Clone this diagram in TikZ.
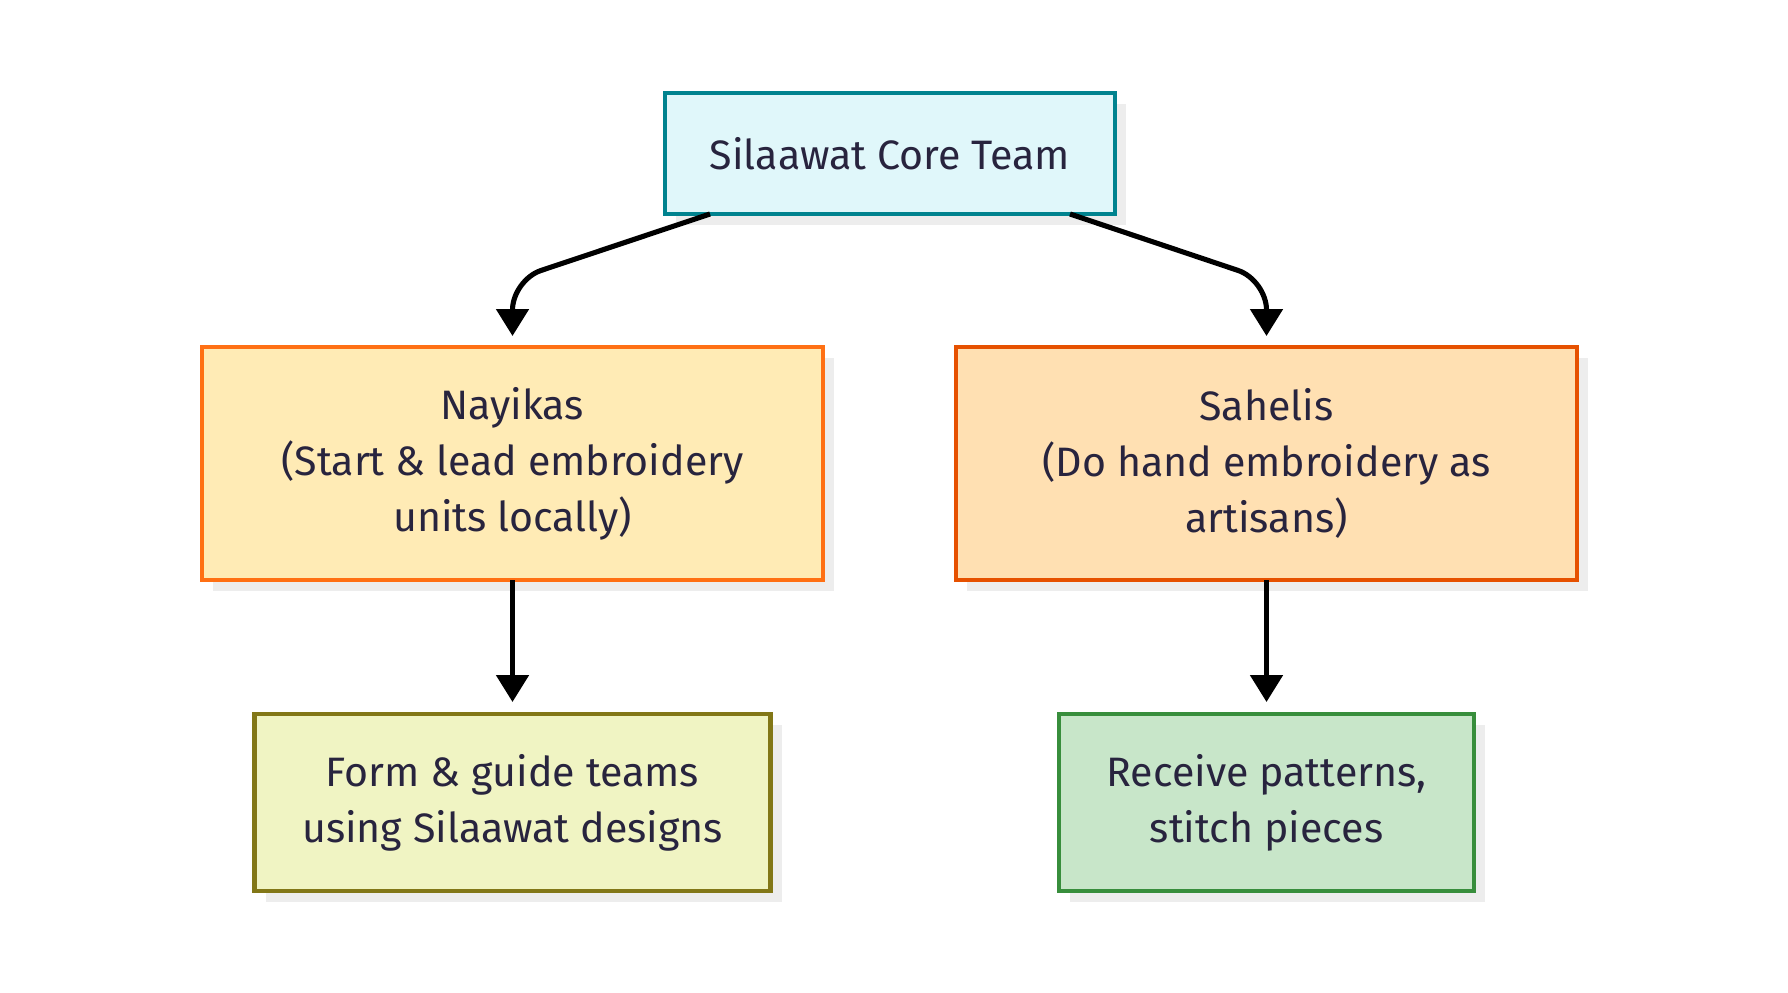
\documentclass[tikz,border=0pt]{standalone}
\usepackage{fontspec}
\setmainfont{Fira Sans}
\usepackage{tikz}
\usetikzlibrary{shadows}
\usetikzlibrary{positioning}
\usetikzlibrary{arrows.meta,calc}

\definecolor{txtcol}{RGB}{40,36,62}
\definecolor{tealline}{RGB}{0,131,143}
\definecolor{tealfill}{RGB}{224,247,250}
\definecolor{orline}{RGB}{255,112,20}
\definecolor{orfill}{RGB}{255,235,181}
\definecolor{dkorline}{RGB}{230,81,0}
\definecolor{dkorfill}{RGB}{255,224,178}
\definecolor{oliveline}{RGB}{130,119,23}
\definecolor{olivefill}{RGB}{240,244,195}
\definecolor{grnline}{RGB}{56,142,60}
\definecolor{grnfill}{RGB}{200,230,201}

\tikzset{
  box/.style={draw,line width=1.4pt,inner sep=0pt,outer sep=0pt,align=center,
    text=txtcol,font=\fontsize{11.7}{15.9}\selectfont,
    general shadow={fill=black!7,shadow xshift=0.11cm,shadow yshift=-0.11cm}},
  arr/.style={line width=1.45pt,-{Triangle[length=0.27cm,width=0.32cm]},rounded corners=0.3cm}
}

\begin{document}
\begin{tikzpicture}
\useasboundingbox (0,0) rectangle (17.88,9.92);

\node[box,draw=tealline,fill=tealfill,minimum width=4.5cm,minimum height=1.21cm] (core) at (8.90,8.385) {Silaawat Core Team};

\node[box,draw=orline,fill=orfill,minimum width=6.21cm,minimum height=2.33cm] (nayikas) at (5.125,5.285) {Nayikas\\(Start \& lead embroidery\\units locally)};
\node[box,draw=dkorline,fill=dkorfill,minimum width=6.21cm,minimum height=2.33cm] (sahelis) at (12.665,5.285) {Sahelis\\(Do hand embroidery as\\artisans)};

\node[box,draw=oliveline,fill=olivefill,minimum width=5.16cm,minimum height=1.77cm] (form) at (5.125,1.895) {Form \& guide teams\\using Silaawat designs};
\node[box,draw=grnline,fill=grnfill,minimum width=4.15cm,minimum height=1.77cm] (receive) at (12.665,1.895) {Receive patterns,\\stitch pieces};

%arrows
\draw[arr,shorten >=0.11cm] ([xshift=-1.8cm]core.south) -- ($(nayikas.north)+(0,0.67)$) -- (nayikas.north);
\draw[arr,shorten >=0.11cm] ([xshift=1.8cm]core.south) -- ($(sahelis.north)+(0,0.67)$) -- (sahelis.north);
\draw[arr,shorten >=0.12cm] (nayikas.south) -- (form.north);
\draw[arr,shorten >=0.12cm] (sahelis.south) -- (receive.north);

\end{tikzpicture}
\end{document}
